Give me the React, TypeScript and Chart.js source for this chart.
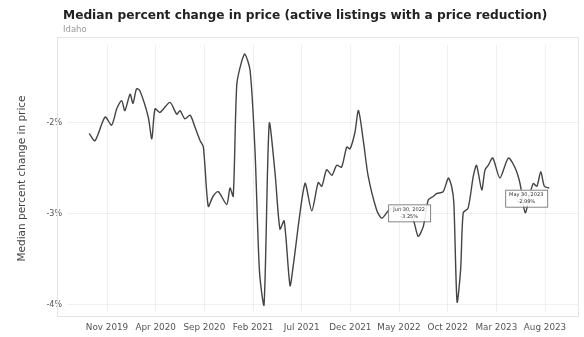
import React, { useEffect, useRef } from "react";
import { Chart, registerables } from "chart.js";

Chart.register(...registerables);

const TITLE = "Median percent change in price (active listings with a price reduction)";
const SUBTITLE = "Idaho";
const Y_TITLE = "Median percent change in price";

const dates = [
  "2019-09-06", "2019-09-24", "2019-10-25", "2019-11-15", "2019-12-01", "2019-12-16", "2019-12-26",
  "2020-01-12", "2020-01-21", "2020-02-02", "2020-02-12", "2020-03-08", "2020-03-19", "2020-03-29",
  "2020-04-14", "2020-05-15", "2020-06-06", "2020-06-16", "2020-07-01", "2020-07-17", "2020-08-02",
  "2020-08-18", "2020-08-28", "2020-09-13", "2020-09-28", "2020-10-14", "2020-11-10", "2020-11-20",
  "2020-11-30", "2020-12-11", "2020-12-26", "2021-01-06", "2021-01-22", "2021-02-07", "2021-02-21",
  "2021-03-05", "2021-03-21", "2021-04-09", "2021-04-24", "2021-05-07", "2021-05-25", "2021-06-05",
  "2021-07-11", "2021-08-02", "2021-08-22", "2021-09-03", "2021-09-18", "2021-10-04", "2021-10-19",
  "2021-11-04", "2021-11-20", "2021-11-30", "2021-12-15", "2021-12-26", "2022-01-11", "2022-01-26",
  "2022-02-22", "2022-03-08", "2022-03-28", "2022-04-24", "2022-05-25", "2022-06-15", "2022-06-30",
  "2022-07-16", "2022-08-01", "2022-08-17", "2022-08-27", "2022-09-17", "2022-10-03", "2022-10-13",
  "2022-10-20", "2022-10-30", "2022-11-11", "2022-11-19", "2022-12-04", "2022-12-20", "2022-12-30",
  "2023-01-16", "2023-01-26", "2023-02-06", "2023-02-20", "2023-03-12", "2023-04-08", "2023-04-29",
  "2023-05-14", "2023-05-30", "2023-06-15", "2023-06-25", "2023-07-06", "2023-07-18", "2023-07-29",
  "2023-08-14",
];

const values = [
  -2.12, -2.2, -1.94, -2.03, -1.85, -1.76, -1.87,
  -1.69, -1.79, -1.63, -1.65, -1.94, -2.18, -1.85,
  -1.89, -1.78, -1.91, -1.87, -1.96, -1.92, -2.05,
  -2.2, -2.27, -2.92, -2.81, -2.76, -2.9, -2.72,
  -2.81, -1.58, -1.33, -1.25, -1.43, -2.3, -3.64,
  -4.0, -2.01, -2.56, -3.17, -3.08, -3.79, -3.57,
  -2.67, -2.97, -2.66, -2.7, -2.52, -2.58, -2.47,
  -2.49, -2.27, -2.29, -2.11, -1.87, -2.2, -2.59,
  -2.96, -3.05, -2.97, -2.92, -2.99, -3.07, -3.25,
  -3.14, -2.85, -2.81, -2.78, -2.76, -2.61, -2.7,
  -2.88, -3.97, -3.61, -2.99, -2.94, -2.59, -2.47,
  -2.74, -2.52, -2.47, -2.39, -2.61, -2.39, -2.5,
  -2.67, -2.99, -2.78, -2.67, -2.7, -2.54, -2.7,
  -2.72,
];

const xTickLabels = [
  "Nov 2019", "Apr 2020", "Sep 2020", "Feb 2021", "Jul 2021",
  "Dec 2021", "May 2022", "Oct 2022", "Mar 2023", "Aug 2023",
];
const yTickValues = [-4, -3, -2];

const annotationDates = ["2022-06-30", "2023-05-30"];
const annotationLines = [
  ["Jun 30, 2022", "-3.25%"],
  ["May 30, 2023", "-2.99%"],
];

const monthNames = ["Jan", "Feb", "Mar", "Apr", "May", "Jun", "Jul", "Aug", "Sep", "Oct", "Nov", "Dec"];

function monthIndex(s: string): number {
  const [y, m, d] = s.split("-").map(Number);
  return (y - 2019) * 12 + (m - 1) + (d - 1) / 30;
}
function labelMonth(label: string): number {
  const [mon, yr] = label.split(" ");
  return (Number(yr) - 2019) * 12 + monthNames.indexOf(mon);
}

const FONT = "'DejaVu Sans', sans-serif";

const headerPlugin = {
  id: "header",
  afterDraw(chart: any) {
    const ctx = chart.ctx;
    ctx.save();
    ctx.fillStyle = "#222";
    ctx.font = `bold 12.2px ${FONT}`;
    ctx.textBaseline = "alphabetic";
    ctx.textAlign = "left";
    ctx.fillText(TITLE, 63, 19);
    ctx.fillStyle = "#999";
    ctx.font = `8.5px ${FONT}`;
    ctx.fillText(SUBTITLE, 63, 32);
    ctx.restore();
  },
  beforeDatasetsDraw(chart: any) {
    const ctx = chart.ctx;
    ctx.save();
    ctx.strokeStyle = "#e4e4e4";
    ctx.lineWidth = 1;
    ctx.strokeRect(57.5, 37.5, 521, 279);
    ctx.restore();
  },
};

const annotationPlugin = {
  id: "boxes",
  afterDatasetsDraw(chart: any) {
    const ctx = chart.ctx;
    const xs = chart.scales.x;
    const ys = chart.scales.y;
    ctx.save();
    annotationDates.forEach((d, i) => {
      const idx = dates.indexOf(d);
      const px = xs.getPixelForValue(monthIndex(d));
      const py = ys.getPixelForValue(values[idx]);
      const w = 42;
      const h = 17;
      const cx = i === 0 ? px - 9 : px + 1;
      const bottom = i === 0 ? py - 15 : py - 6;
      const left = cx - w / 2;
      const top = bottom - h;
      ctx.fillStyle = "rgba(255,255,255,0.9)";
      ctx.fillRect(left, top, w, h);
      ctx.strokeStyle = "#666";
      ctx.lineWidth = 0.8;
      ctx.strokeRect(left + 0.5, top + 0.5, w, h);
      ctx.fillStyle = "#333";
      ctx.font = `5px ${FONT}`;
      ctx.textAlign = "center";
      ctx.textBaseline = "middle";
      ctx.fillText(annotationLines[i][0], cx, top + 5);
      ctx.fillText(annotationLines[i][1], cx, top + 12);
    });
    ctx.restore();
  },
};

export default function App() {
  const ref = useRef<HTMLCanvasElement | null>(null);
  useEffect(() => {
    document.body.style.margin = "0";
    const canvas = ref.current!;
    const xMonthsAtTicks = xTickLabels.map(labelMonth);
    const chart = new Chart(canvas, {
      type: "line",
      data: {
        datasets: [
          {
            data: dates.map((d, i) => ({ x: monthIndex(d), y: values[i] })),
            borderColor: "#444",
            borderWidth: 1.4,
            pointRadius: 0,
            tension: 0.25,
            fill: false,
          },
        ],
      },
      plugins: [headerPlugin, annotationPlugin],
      options: {
        responsive: false,
        animation: false,
        devicePixelRatio: 1,
        layout: { padding: { top: 45, right: 6, left: 0, bottom: 0 } },
        plugins: {
          legend: { display: false },
          tooltip: { enabled: false },
          title: { display: false },
        },
        scales: {
          x: {
            type: "linear",
            min: 5.99,
            max: 58.39,
            afterBuildTicks: (scale: any) => {
              scale.ticks = xMonthsAtTicks.map((v) => ({ value: v }));
            },
            afterFit: (scale: any) => {
              scale.height = 25;
            },
            ticks: {
              autoSkip: false,
              maxRotation: 0,
              padding: 10,
              color: "#555",
              font: { size: 8.8, family: FONT },
              callback: (v: any) => {
                const i = xMonthsAtTicks.indexOf(Number(v));
                return i >= 0 ? xTickLabels[i] : "";
              },
            },
            grid: { color: "rgba(0,0,0,0.06)", drawTicks: false },
            border: { display: false },
          },
          y: {
            type: "linear",
            min: -4.08,
            max: -1.15,
            afterBuildTicks: (scale: any) => {
              scale.ticks = yTickValues.map((v) => ({ value: v }));
            },
            afterFit: (scale: any) => {
              scale.width = 68;
            },
            ticks: {
              padding: 6,
              color: "#555",
              font: { size: 8, family: FONT },
              callback: (v: any) => `${v}%`,
            },
            title: {
              display: true,
              text: Y_TITLE,
              color: "#444",
              font: { size: 10.5, family: FONT },
              padding: { top: 16, bottom: 0 },
            },
            grid: { color: "rgba(0,0,0,0.06)", drawTicks: false },
            border: { display: false },
          },
        },
      },
    } as any);
    return () => chart.destroy();
  }, []);
  return <canvas ref={ref} width={584} height={337} style={{ display: "block" }} />;
}
